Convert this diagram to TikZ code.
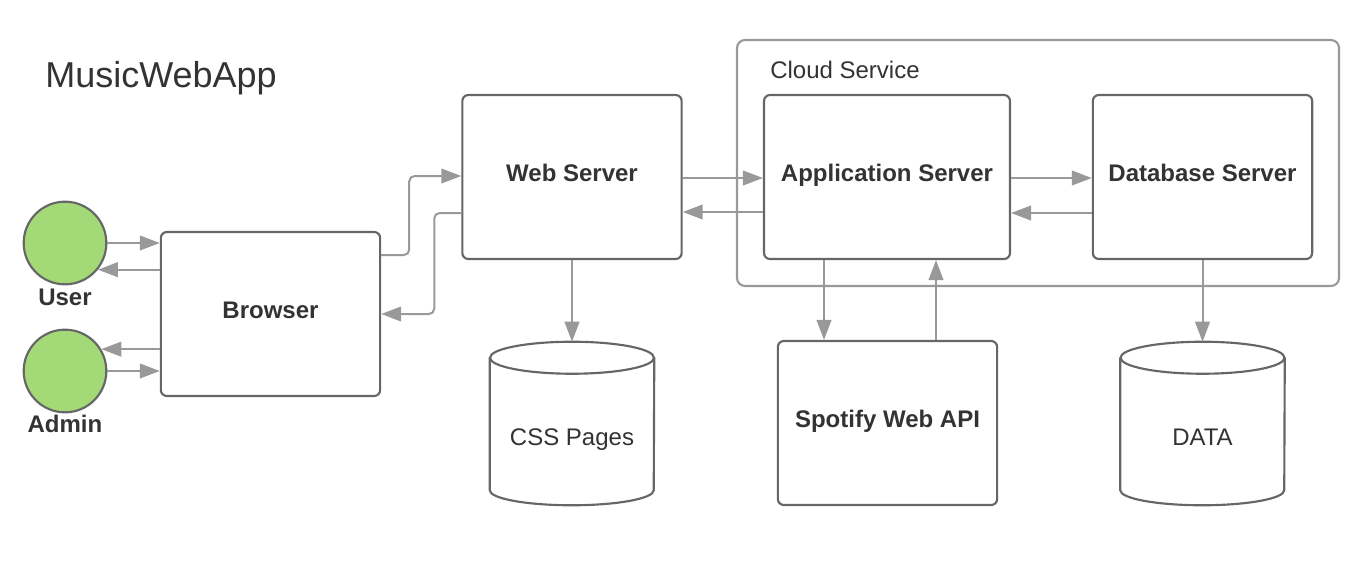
\documentclass[tikz,border=0pt]{standalone}
\usepackage{fontspec}
\setmainfont{Liberation Sans}
\usepackage{tikz}
\usetikzlibrary{arrows.meta,calc}
\definecolor{edge}{HTML}{666666}
\definecolor{link}{HTML}{999999}
\definecolor{ink}{HTML}{333333}
\definecolor{leaf}{HTML}{A3D977}
\tikzstyle{box1}=[rectangle, draw=edge, line width=1.6pt, rounded corners=4.5pt, fill=white,
        text=ink, minimum width=164.5pt, minimum height=123pt, text height=13pt, text depth=6pt,
        font=\fontsize{18}{21}\selectfont\bfseries]
\tikzstyle{cyl1}=[rectangle, inner sep=0pt, text=ink, minimum width=123pt, minimum height=122.25pt,
        text height=33pt, text depth=0pt, font=\fontsize{18}{21}\selectfont]
\tikzstyle{cylline}=[draw=edge, line width=1.6pt, fill=white]
\tikzstyle{actor}=[circle, draw=edge, line width=1.6pt, fill=leaf, minimum size=62pt, inner sep=0pt]
\tikzstyle{lbl}=[anchor=base, text=ink, font=\fontsize{18}{21}\selectfont\bfseries]
\tikzstyle{link1}=[draw=link, line width=1.5pt, rounded corners=4pt, -{Triangle[length=15pt,width=11pt]}]
\newcommand{\drum}[1]{%
  \draw[cylline] ($(#1.north west)+(0,16)$) -- ($(#1.south west)+(0,-15)$)
    arc[start angle=180, end angle=360, x radius=61.5pt, y radius=11.25pt]
    -- ($(#1.north east)+(0,16)$);
  \draw[cylline] ($(#1.north)+(0,16)$) ellipse [x radius=61.5pt, y radius=12pt];}

\begin{document}
\begin{tikzpicture}[x=0.75pt, y=-0.75pt]
\useasboundingbox (0,0) rectangle (1366,578);
\node [anchor=base west, inner sep=0pt, text=ink, font=\fontsize{27}{32}\selectfont] (title) at (45,87) {MusicWebApp};
\node [draw=link, line width=1.6pt, rounded corners=6pt, minimum width=451.5pt, minimum height=184.5pt] (cloud) at (1038,163) {};
\node [anchor=base west, inner sep=0pt, text=ink, font=\fontsize{18}{21}\selectfont] (cloudlbl) at (770,78) {Cloud Service};
\node [box1] (web) at (572,177) {Web Server};
\node [box1, minimum width=184.5pt] (app) at (887,177) {Application Server};
\node [box1] (db) at (1202.5,177) {Database Server};
\node [box1] (browser) at (270.5,314) {Browser};
\node [box1] (spotify) at (887.5,423) {Spotify Web API};
\node [cyl1] (css) at (572,423.5) {};
\node [cyl1] (data) at (1202.5,423.5) {};
\drum{css}
\drum{data}
\node [cyl1] (csslbl) at (css) {CSS Pages};
\node [cyl1] (datalbl) at (data) {DATA};
\node [actor] (user) at (65,243) {};
\node [actor] (admin) at (65,371) {};
\node [lbl] (userlbl) at (65,305) {User};
\node [lbl] (adminlbl) at (65,432) {Admin};
\coordinate (appout) at ($(app.south)+(-63,0)$);
\coordinate (apiout) at ($(spotify.north)+(48.5,0)$);

% users and browser
\draw [link1] (user.east) -- (user.east -| browser.west);
\draw [link1] (browser.west |- user.-39) -- (user.-39);
\draw [link1] (browser.west |- admin.31) -- (admin.31);
\draw [link1] (admin.east) -- (admin.east -| browser.west);
% browser and web server
\draw [link1] ($(browser.east)+(0,-59)$) -- ++(28,0) |- ($(web.west)+(0,-1)$);
\draw [link1] ($(web.west)+(0,36)$) -- ++(-27,0) |- (browser.east);
% servers
\draw [link1] ($(web.east)+(0,1)$) -- ($(app.west)+(0,1)$);
\draw [link1] ($(app.west)+(0,35)$) -- ($(web.east)+(0,35)$);
\draw [link1] ($(app.east)+(0,1)$) -- ($(db.west)+(0,1)$);
\draw [link1] ($(db.west)+(0,36)$) -- ($(app.east)+(0,36)$);
% down to storage and api
\draw [link1] (web.south) -- (css.north);
\draw [link1] (appout) -- (appout |- spotify.north);
\draw [link1] (apiout) -- (apiout |- app.south);
\draw [link1] (db.south) -- (data.north);
\end{tikzpicture}
\end{document}
